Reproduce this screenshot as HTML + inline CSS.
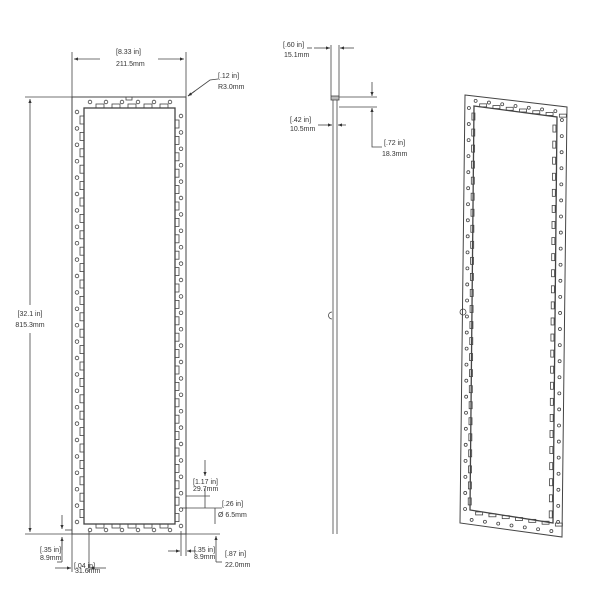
<!DOCTYPE html>
<html><head><meta charset="utf-8"><style>
html,body{margin:0;padding:0;background:#fff;}
svg{display:block;font-family:"Liberation Sans",sans-serif;}
text{fill:#333;font-size:7px;}
</style></head><body>
<svg id="s" width="610" height="610" viewBox="0 0 610 610" xmlns="http://www.w3.org/2000/svg">
<defs><marker id="a" markerWidth="6" markerHeight="6" refX="5" refY="3" orient="auto"><path d="M0,1 L5,3 L0,5z" fill="#333"/></marker></defs>
<g stroke="#444" stroke-width="0.8" fill="none" id="g">
<rect x="72" y="97" width="114" height="437" stroke-width="1"/>
<rect x="84" y="108" width="91" height="416" stroke-width="1.3"/>
<line x1="72" y1="52" x2="72" y2="97"/><line x1="186" y1="52" x2="186" y2="97"/>
<line x1="100" y1="59" x2="74" y2="59" marker-end="url(#a)"/><line x1="158" y1="59" x2="184" y2="59" marker-end="url(#a)"/>
<line x1="25" y1="97" x2="72" y2="97"/><line x1="25" y1="534" x2="72" y2="534"/>
<line x1="30" y1="305" x2="30" y2="99" marker-end="url(#a)"/><line x1="30" y1="333" x2="30" y2="532" marker-end="url(#a)"/>
<polyline points="218,79 210,80 188,96"/><line x1="195" y1="91" x2="188" y2="96" marker-end="url(#a)"/>
<line x1="65" y1="530" x2="72" y2="530"/><line x1="62" y1="515" x2="62" y2="529" marker-end="url(#a)"/>
<line x1="62" y1="550" x2="62" y2="537" marker-end="url(#a)"/><line x1="57" y1="562" x2="62" y2="562"/><line x1="62" y1="537" x2="62" y2="562"/>
<line x1="72" y1="534" x2="72" y2="572"/><line x1="89" y1="531" x2="89" y2="572"/>
<line x1="55" y1="568" x2="71" y2="568" marker-end="url(#a)"/><line x1="106" y1="568" x2="90" y2="568" marker-end="url(#a)"/>
<line x1="181" y1="531" x2="181" y2="556"/><line x1="186" y1="534" x2="186" y2="556"/>
<line x1="168" y1="551" x2="180" y2="551" marker-end="url(#a)"/><line x1="196" y1="551" x2="187" y2="551" marker-end="url(#a)"/>
<line x1="186" y1="534" x2="220" y2="534"/><line x1="216" y1="545" x2="216" y2="536" marker-end="url(#a)"/><line x1="216" y1="545" x2="216" y2="562"/><line x1="216" y1="562" x2="222" y2="562"/>
<line x1="186" y1="508" x2="222" y2="508"/><line x1="186" y1="496" x2="210" y2="496"/>
<line x1="205" y1="460" x2="205" y2="476" marker-end="url(#a)"/><line x1="205" y1="488" x2="205" y2="508"/>
<line x1="215" y1="508" x2="215" y2="524"/><line x1="182" y1="508" x2="187" y2="508"/>
<line x1="333" y1="100" x2="333" y2="534"/><line x1="337" y1="100" x2="337" y2="534"/>
<rect x="331" y="96" width="8" height="4" fill="#bbb"/>
<path d="M332,312 a3,3 0 1 0 0,7" />
<line x1="331" y1="45" x2="331" y2="96"/><line x1="339" y1="45" x2="339" y2="96"/>
<line x1="314" y1="48" x2="330" y2="48" marker-end="url(#a)"/><line x1="354" y1="48" x2="340" y2="48" marker-end="url(#a)"/>
<polyline points="307,48 312,48"/>
<line x1="339" y1="97" x2="377" y2="97"/><line x1="339" y1="107" x2="377" y2="107"/>
<line x1="372" y1="82" x2="372" y2="96" marker-end="url(#a)"/><line x1="372" y1="122" x2="372" y2="108" marker-end="url(#a)"/>
<polyline points="372,122 372,147 382,147"/>
<line x1="318" y1="125" x2="332" y2="125" marker-end="url(#a)"/><line x1="346" y1="125" x2="338" y2="125" marker-end="url(#a)"/>
<polygon points="465,95 567,107 562,537 460,523" stroke-width="1"/>
<polygon points="474,106 557,117 553,523 470,510" stroke-width="1.3"/>
<circle cx="463" cy="312" r="3"/>
</g>
<g font-size="7">
<text x="116" y="54">[8.33 in]</text><text x="116" y="66">211.5mm</text>
<text x="218" y="78">[.12 in]</text><text x="218" y="89">R3.0mm</text>
<text x="30" y="316" text-anchor="middle">[32.1 in]</text>
<text x="30" y="327" text-anchor="middle">815.3mm</text>
<text x="40" y="552">[.35 in]</text><text x="40" y="560">8.9mm</text>
<text x="74" y="568" font-size="4">[.04 in]</text><text x="75" y="573" font-size="4">31.6mm</text>
<text x="194" y="552">[.35 in]</text><text x="194" y="559">8.9mm</text>
<text x="225" y="556">[.87 in]</text><text x="225" y="567">22.0mm</text>
<text x="193" y="484" font-size="6">[1.17 in]</text><text x="193" y="491" font-size="6">29.7mm</text>
<text x="222" y="506">[.26 in]</text><text x="218" y="517">Ø 6.5mm</text>
<text x="283" y="47">[.60 in]</text><text x="284" y="57">15.1mm</text>
<text x="290" y="122">[.42 in]</text><text x="290" y="131">10.5mm</text>
<text x="384" y="145">[.72 in]</text><text x="382" y="156">18.3mm</text>
</g>
</svg>
<script>
var g=document.getElementById('g'),ns='http://www.w3.org/2000/svg';
function el(t,a){var e=document.createElementNS(ns,t);for(var k in a)e.setAttribute(k,a[k]);g.appendChild(e);}
for(var y=112;y<=522;y+=16.4){el('circle',{cx:77,cy:y,r:1.8});el('circle',{cx:181,cy:y+4,r:1.8});}
for(var y=116;y<=512;y+=16.4){el('rect',{x:80,y:y,width:4,height:8});el('rect',{x:175,y:y+4,width:4,height:8});}
for(var x=90;x<=172;x+=16){el('circle',{cx:x,cy:102,r:1.8});el('circle',{cx:x,cy:530,r:1.8});}
for(var x=96;x<=160;x+=16){el('rect',{x:x,y:104,width:8,height:4});el('rect',{x:x,y:524,width:8,height:4});}
el('rect',{x:126,y:97,width:6,height:3});
function L(a,b,t){return [a[0]+(b[0]-a[0])*t,a[1]+(b[1]-a[1])*t];}
var TL=[469,100],TR=[562,112],BR=[558,530],BL=[465,517];
for(var i=0;i<26;i++){var t=(i+0.5)/26;var p=L(TL,BL,t),q=L(TR,BR,t);el('circle',{cx:p[0],cy:p[1],r:1.5});el('circle',{cx:q[0],cy:q[1],r:1.5});
 if(i<25){el('rect',{x:p[0]+3,y:p[1]+5,width:3,height:7});el('rect',{x:q[0]-9,y:q[1]+5,width:3,height:7});}}
for(var i=0;i<7;i++){var t=(i+0.5)/7;var p=L(TL,TR,t),q=L(BL,BR,t);el('circle',{cx:p[0],cy:p[1],r:1.5});el('circle',{cx:q[0],cy:q[1]+2,r:1.5});
 el('rect',{x:p[0]+4,y:p[1]+3,width:7,height:3});el('rect',{x:q[0]+4,y:q[1]-6,width:7,height:3});}
</script>
</body></html>
